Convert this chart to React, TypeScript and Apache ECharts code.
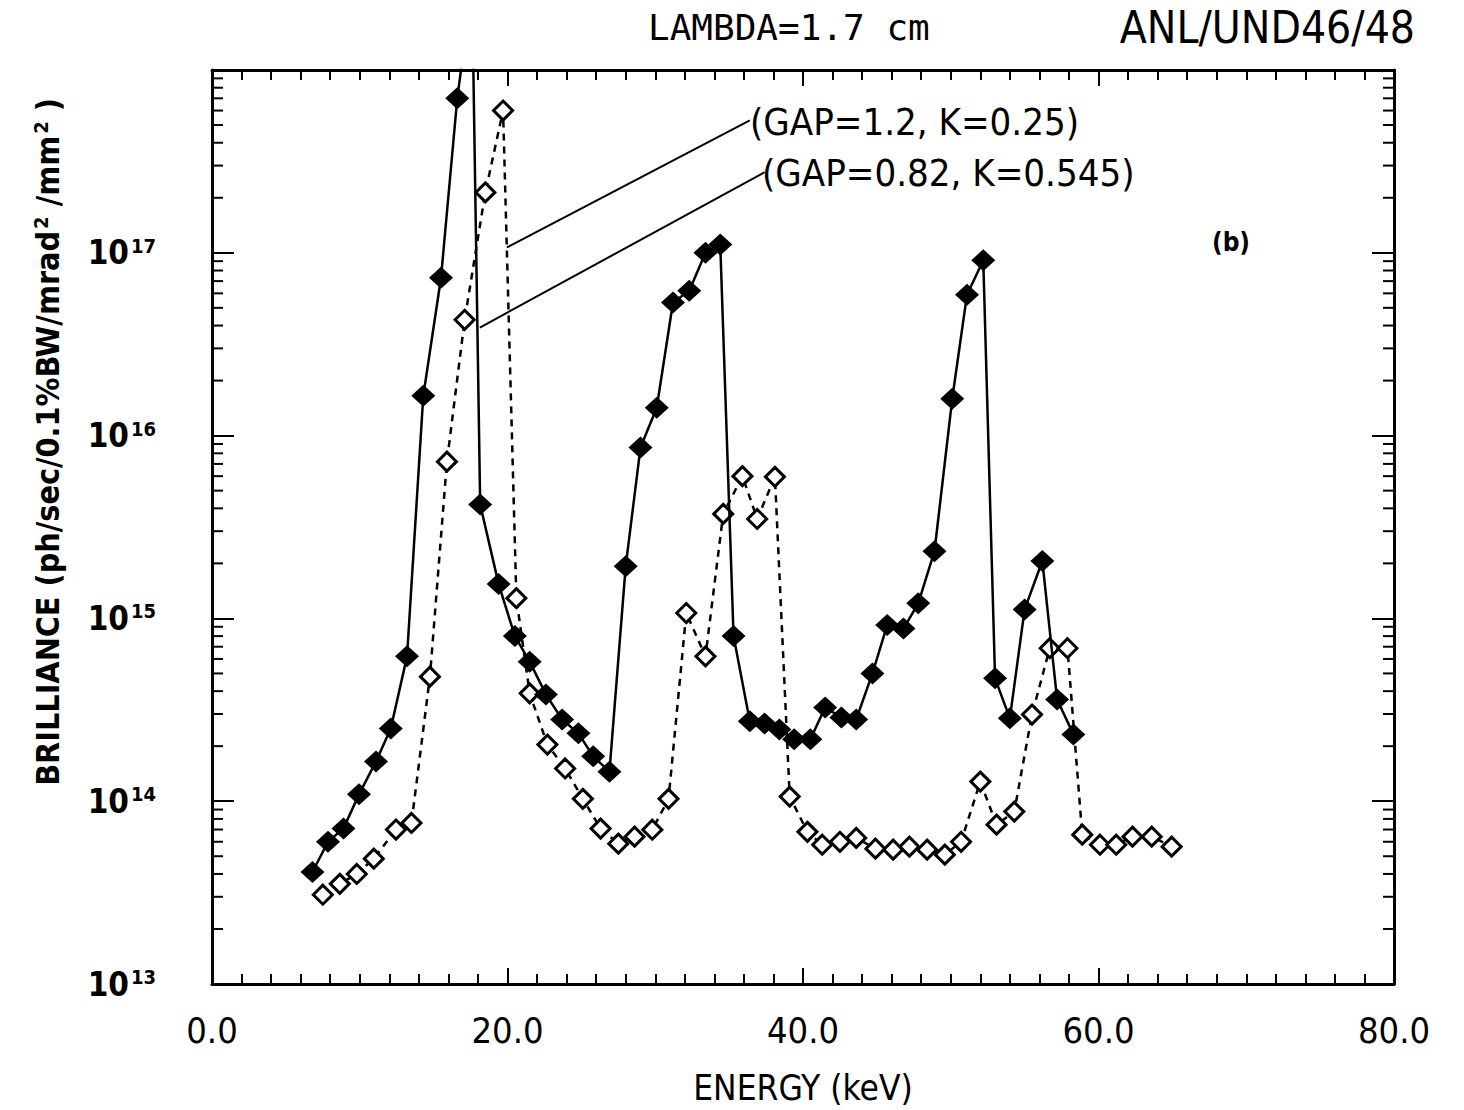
import React, { useEffect, useRef } from 'react';
import * as echarts from 'echarts';

// GAP=0.82, K=0.545 (filled diamonds, solid line)
const solidX = [6.8, 7.85, 8.9, 9.95, 11.1, 12.1, 13.2, 14.3, 15.5, 16.6, 17.6, 18.15, 19.4, 20.5, 21.5, 22.6, 23.7, 24.8, 25.8, 26.9, 28.0, 29.0, 30.1, 31.2, 32.3, 33.4, 34.4, 35.3, 36.4, 37.4, 38.4, 39.4, 40.5, 41.5, 42.6, 43.6, 44.7, 45.7, 46.8, 47.8, 48.9, 50.1, 51.1, 52.2, 53.0, 54.0, 55.0, 56.2, 57.2, 58.3];
const solidY = [4.1e13, 6.0e13, 7.1e13, 1.09e14, 1.65e14, 2.5e14, 6.2e14, 1.65e16, 7.3e16, 7.0e17, 2.9e18, 4.2e15, 1.54e15, 8.0e14, 5.8e14, 3.84e14, 2.8e14, 2.35e14, 1.76e14, 1.45e14, 1.93e15, 8.6e15, 1.42e16, 5.35e16, 6.2e16, 1.0e17, 1.11e17, 8.0e14, 2.74e14, 2.66e14, 2.47e14, 2.18e14, 2.18e14, 3.26e14, 2.87e14, 2.8e14, 5.0e14, 9.2e14, 8.8e14, 1.21e15, 2.33e15, 1.59e16, 5.9e16, 9.1e16, 4.7e14, 2.84e14, 1.12e15, 2.06e15, 3.6e14, 2.32e14];

// GAP=1.2, K=0.25 (open diamonds, dashed line)
const openX = [7.5, 8.65, 9.8, 10.95, 12.45, 13.5, 14.75, 15.9, 17.1, 18.5, 19.7, 20.6, 21.5, 22.7, 23.9, 25.1, 26.3, 27.5, 28.6, 29.8, 30.9, 32.1, 33.4, 34.6, 35.9, 36.9, 38.1, 39.1, 40.3, 41.3, 42.5, 43.6, 44.9, 46.1, 47.2, 48.4, 49.6, 50.7, 52.0, 53.1, 54.3, 55.5, 56.7, 57.9, 58.9, 60.1, 61.2, 62.3, 63.6, 64.95];
const openY = [3.08e13, 3.53e13, 4.0e13, 4.85e13, 7.0e13, 7.6e13, 4.8e14, 7.2e15, 4.3e16, 2.14e17, 6.0e17, 1.29e15, 3.89e14, 2.04e14, 1.51e14, 1.03e14, 7.08e13, 5.86e13, 6.4e13, 6.98e13, 1.03e14, 1.07e15, 6.2e14, 3.73e15, 6.0e15, 3.5e15, 5.95e15, 1.06e14, 6.8e13, 5.78e13, 6.0e13, 6.3e13, 5.5e13, 5.43e13, 5.64e13, 5.43e13, 5.1e13, 6.0e13, 1.28e14, 7.44e13, 8.77e13, 2.98e14, 6.87e14, 6.87e14, 6.56e13, 5.78e13, 5.78e13, 6.4e13, 6.4e13, 5.64e13];

const xTickLabels = ['0.0', '20.0', '40.0', '60.0', '80.0'];
const yMinExp = 13;
const yMaxExp = 18;
const minorTickValues: number[] = [];
for (let e = yMinExp; e < yMaxExp; e++) {
  for (let k = 2; k <= 9; k++) minorTickValues.push(k * Math.pow(10, e));
}

// annotation leader lines (data coords)
const leaderStart = [[19.96, 1.07e17], [18.13, 3.9e16]];
const leaderEnd = [[36.4, 5.3e17], [37.4, 2.76e17]];
const leaderTexts = ['(GAP=1.2, K=0.25)', '(GAP=0.82, K=0.545)'];

const COND = '"DejaVu Sans Condensed", "DejaVu Sans", sans-serif';
const MONO = '"DejaVu Sans Mono", monospace';

export default function App() {
  const ref = useRef<HTMLDivElement>(null);
  useEffect(() => {
    if (!ref.current) return;
    const chart = echarts.init(ref.current, undefined, { renderer: 'svg' });
    const solidData = solidX.map((x, i) => [x, solidY[i]]);
    const openData = openX.map((x, i) => [x, openY[i]]);
    const axisLineStyle = { color: '#000', width: 3 };
    const xCommon = {
      type: 'value',
      min: 0,
      max: 80,
      interval: 20,
      axisLine: { show: true, onZero: false, lineStyle: axisLineStyle },
      axisTick: { show: true, inside: true, length: 16, lineStyle: { color: '#000', width: 2 } },
      minorTick: { show: true, splitNumber: 10, length: 10, lineStyle: { color: '#000', width: 2 } },
      splitLine: { show: false },
      minorSplitLine: { show: false },
    };
    const yCommon = {
      type: 'log',
      logBase: 10,
      min: Math.pow(10, yMinExp),
      max: Math.pow(10, yMaxExp),
      splitNumber: 5,
      axisLine: { show: true, onZero: false, lineStyle: axisLineStyle },
      axisTick: { show: true, inside: true, length: 22, lineStyle: { color: '#000', width: 2 } },
      splitLine: { show: false },
    };
    chart.setOption({
      animation: false,
      backgroundColor: '#fff',
      grid: { left: 212, right: 70, top: 70, bottom: 110, containLabel: false },
      xAxis: [
        {
          ...xCommon,
          position: 'bottom',
          name: 'ENERGY (keV)',
          nameLocation: 'middle',
          nameGap: 86,
          nameTextStyle: { fontFamily: COND, fontSize: 35, color: '#000' },
          axisLabel: {
            show: true,
            margin: 28,
            fontFamily: COND,
            fontSize: 36,
            color: '#000',
            formatter: (v: number) => xTickLabels[Math.round(v / 20)] ?? '',
          },
        },
        { ...xCommon, position: 'top', axisLabel: { show: false } },
      ],
      yAxis: [
        {
          ...yCommon,
          position: 'left',
          axisLabel: {
            show: true,
            margin: 56,
            showMaxLabel: false,
            formatter: (v: number) => `{b|10}{s|${Math.round(Math.log10(v))}}`,
            rich: {
              b: { fontFamily: COND, fontSize: 33, fontWeight: 'bold', color: '#000' },
              s: { fontFamily: COND, fontSize: 20, fontWeight: 'bold', color: '#000', verticalAlign: 'top', padding: [0, 0, 14, 2] },
            },
          },
        },
        { ...yCommon, position: 'right', axisLabel: { show: false } },
      ],
      graphic: [
        {
          type: 'text',
          x: 48,
          y: 442,
          rotation: Math.PI / 2,
          style: {
            text: 'BRILLIANCE (ph/sec/0.1%BW/mrad{s|2} /mm{s|2} )',
            font: `bold 32px ${COND}`,
            fill: '#000',
            align: 'center',
            verticalAlign: 'middle',
            rich: {
              s: { font: `bold 20px ${COND}`, fill: '#000', verticalAlign: 'top', padding: [0, 0, 14, 2] },
            },
          },
        },
        { type: 'text', x: 648, y: 27, style: { text: 'LAMBDA=1.7 cm', font: `36px ${MONO}`, fill: '#000', align: 'left', verticalAlign: 'middle' } },
        { type: 'text', x: 1415, y: 27, style: { text: 'ANL/UND46/48', font: `44px ${COND}`, fill: '#000', align: 'right', verticalAlign: 'middle' } },
        { type: 'text', x: 750, y: 122, style: { text: leaderTexts[0], font: `38px ${COND}`, fill: '#000', align: 'left', verticalAlign: 'middle' } },
        { type: 'text', x: 762, y: 173, style: { text: leaderTexts[1], font: `38px ${COND}`, fill: '#000', align: 'left', verticalAlign: 'middle' } },
        { type: 'text', x: 1231, y: 242, style: { text: '(b)', font: `bold 26px ${COND}`, fill: '#000', align: 'center', verticalAlign: 'middle' } },
      ],
      series: [
        {
          type: 'custom',
          silent: true,
          xAxisIndex: 0,
          yAxisIndex: 0,
          clip: false,
          z: 1,
          data: minorTickValues.map((v) => [0, v]),
          renderItem: (_p: any, api: any) => {
            const v = api.value(1);
            const l = api.coord([0, v]);
            const r = api.coord([80, v]);
            return {
              type: 'group',
              children: [
                { type: 'line', shape: { x1: l[0], y1: l[1], x2: l[0] + 11, y2: l[1] }, style: { stroke: '#000', lineWidth: 2 } },
                { type: 'line', shape: { x1: r[0] - 11, y1: r[1], x2: r[0], y2: r[1] }, style: { stroke: '#000', lineWidth: 2 } },
              ],
            };
          },
        },
        {
          name: 'GAP=1.2, K=0.25',
          type: 'line',
          data: openData,
          symbol: 'diamond',
          symbolSize: 19,
          clip: true,
          z: 3,
          lineStyle: { color: '#000', width: 2.5, type: [7, 6] },
          itemStyle: { color: '#fff', borderColor: '#000', borderWidth: 3 },
        },
        {
          name: 'GAP=0.82, K=0.545',
          type: 'line',
          data: solidData,
          symbol: 'diamond',
          symbolSize: [24, 22],
          clip: true,
          z: 4,
          lineStyle: { color: '#000', width: 2.5 },
          itemStyle: { color: '#000' },
          markLine: {
            silent: true,
            symbol: ['none', 'none'],
            label: { show: false },
            lineStyle: { color: '#000', width: 2, type: 'solid' },
            data: leaderStart.map((s, i) => [{ coord: s }, { coord: leaderEnd[i] }]),
          },
        },
      ],
    });
    return () => chart.dispose();
  }, []);
  return <div ref={ref} style={{ position: 'fixed', left: 0, top: 0, width: 1464, height: 1110 }} />;
}
